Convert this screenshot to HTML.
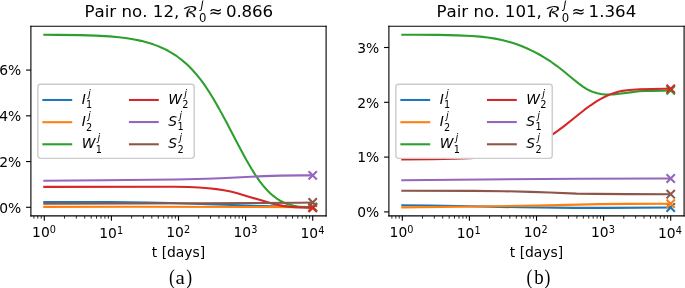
<!DOCTYPE html>
<html><head><meta charset="utf-8"><title>Figure</title>
<style>html,body{margin:0;padding:0;background:#fff;overflow:hidden}svg{display:block}svg *{stroke-linejoin:round;stroke-linecap:butt}</style>
</head><body>
<svg width="685" height="288" viewBox="0 0 493.2 207.36">
   <g id="figure_1">
  <g id="patch_1">
   <path d="M 0 207.36 L 493.2 207.36 L 493.2 0 L 0 0 z
" style="fill: #ffffff"/>
  </g>
  <g id="axes_1">
   <g id="patch_2">
    <path d="M 22.248 155.412 L 234.792 155.412 L 234.792 18.9 L 22.248 18.9 z
" style="fill: #ffffff"/>
   </g>
   <g id="matplotlib.axis_1">
    <g id="xtick_1">
     <g id="line2d_1">
            <g>
       <path d="M 0 0 L 0 3.5" transform="translate(31.896 155.412)" style="stroke: #000000; stroke-width: 0.8"/>
      </g>
     </g>
     <g id="text_1">
            <g transform="translate(23.0960 171.3104)">
       <text><tspan x="0.0000" y="-0.9766" style="font-size: 10px; font-family: 'DejaVu Sans', sans-serif; font-kerning: none">10</tspan><tspan x="12.8203" y="-3.8747" style="font-size: 7px; font-family: 'DejaVu Sans', sans-serif; font-kerning: none">0</tspan></text>
      </g>
     </g>
    </g>
    <g id="xtick_2">
     <g id="line2d_2">
      <g>
       <path d="M 0 0 L 0 3.5" transform="translate(80.208 155.412)" style="stroke: #000000; stroke-width: 0.8"/>
      </g>
     </g>
     <g id="text_2">
            <g transform="translate(71.4080 171.3104)">
       <text><tspan x="0.0000" y="-0.0641" style="font-size: 10px; font-family: 'DejaVu Sans', sans-serif; font-kerning: none">10</tspan><tspan x="12.8203" y="-2.9622" style="font-size: 7px; font-family: 'DejaVu Sans', sans-serif; font-kerning: none">1</tspan></text>
      </g>
     </g>
    </g>
    <g id="xtick_3">
     <g id="line2d_3">
      <g>
       <path d="M 0 0 L 0 3.5" transform="translate(128.52 155.412)" style="stroke: #000000; stroke-width: 0.8"/>
      </g>
     </g>
     <g id="text_3">
            <g transform="translate(119.7200 171.3104)">
       <text><tspan x="0.0000" y="-0.9766" style="font-size: 10px; font-family: 'DejaVu Sans', sans-serif; font-kerning: none">10</tspan><tspan x="12.8203" y="-3.8747" style="font-size: 7px; font-family: 'DejaVu Sans', sans-serif; font-kerning: none">2</tspan></text>
      </g>
     </g>
    </g>
    <g id="xtick_4">
     <g id="line2d_4">
      <g>
       <path d="M 0 0 L 0 3.5" transform="translate(176.832 155.412)" style="stroke: #000000; stroke-width: 0.8"/>
      </g>
     </g>
     <g id="text_4">
            <g transform="translate(168.0320 171.3104)">
       <text><tspan x="0.0000" y="-0.9766" style="font-size: 10px; font-family: 'DejaVu Sans', sans-serif; font-kerning: none">10</tspan><tspan x="12.8203" y="-3.8747" style="font-size: 7px; font-family: 'DejaVu Sans', sans-serif; font-kerning: none">3</tspan></text>
      </g>
     </g>
    </g>
    <g id="xtick_5">
     <g id="line2d_5">
      <g>
       <path d="M 0 0 L 0 3.5" transform="translate(225.144 155.412)" style="stroke: #000000; stroke-width: 0.8"/>
      </g>
     </g>
     <g id="text_5">
            <g transform="translate(216.3440 171.3104)">
       <text><tspan x="0.0000" y="-0.0641" style="font-size: 10px; font-family: 'DejaVu Sans', sans-serif; font-kerning: none">10</tspan><tspan x="12.8203" y="-2.9622" style="font-size: 7px; font-family: 'DejaVu Sans', sans-serif; font-kerning: none">4</tspan></text>
      </g>
     </g>
    </g>
    <g id="xtick_6">
     <g id="line2d_6">
            <g>
       <path d="M 0 0 L 0 2" transform="translate(24.412377 155.412)" style="stroke: #000000; stroke-width: 0.6"/>
      </g>
     </g>
    </g>
    <g id="xtick_7">
     <g id="line2d_7">
      <g>
       <path d="M 0 0 L 0 2" transform="translate(27.214083 155.412)" style="stroke: #000000; stroke-width: 0.6"/>
      </g>
     </g>
    </g>
    <g id="xtick_8">
     <g id="line2d_8">
      <g>
       <path d="M 0 0 L 0 2" transform="translate(29.685364 155.412)" style="stroke: #000000; stroke-width: 0.6"/>
      </g>
     </g>
    </g>
    <g id="xtick_9">
     <g id="line2d_9">
      <g>
       <path d="M 0 0 L 0 2" transform="translate(46.439361 155.412)" style="stroke: #000000; stroke-width: 0.6"/>
      </g>
     </g>
    </g>
    <g id="xtick_10">
     <g id="line2d_10">
      <g>
       <path d="M 0 0 L 0 2" transform="translate(54.946682 155.412)" style="stroke: #000000; stroke-width: 0.6"/>
      </g>
     </g>
    </g>
    <g id="xtick_11">
     <g id="line2d_11">
      <g>
       <path d="M 0 0 L 0 2" transform="translate(60.982722 155.412)" style="stroke: #000000; stroke-width: 0.6"/>
      </g>
     </g>
    </g>
    <g id="xtick_12">
     <g id="line2d_12">
      <g>
       <path d="M 0 0 L 0 2" transform="translate(65.664639 155.412)" style="stroke: #000000; stroke-width: 0.6"/>
      </g>
     </g>
    </g>
    <g id="xtick_13">
     <g id="line2d_13">
      <g>
       <path d="M 0 0 L 0 2" transform="translate(69.490043 155.412)" style="stroke: #000000; stroke-width: 0.6"/>
      </g>
     </g>
    </g>
    <g id="xtick_14">
     <g id="line2d_14">
      <g>
       <path d="M 0 0 L 0 2" transform="translate(72.724377 155.412)" style="stroke: #000000; stroke-width: 0.6"/>
      </g>
     </g>
    </g>
    <g id="xtick_15">
     <g id="line2d_15">
      <g>
       <path d="M 0 0 L 0 2" transform="translate(75.526083 155.412)" style="stroke: #000000; stroke-width: 0.6"/>
      </g>
     </g>
    </g>
    <g id="xtick_16">
     <g id="line2d_16">
      <g>
       <path d="M 0 0 L 0 2" transform="translate(77.997364 155.412)" style="stroke: #000000; stroke-width: 0.6"/>
      </g>
     </g>
    </g>
    <g id="xtick_17">
     <g id="line2d_17">
      <g>
       <path d="M 0 0 L 0 2" transform="translate(94.751361 155.412)" style="stroke: #000000; stroke-width: 0.6"/>
      </g>
     </g>
    </g>
    <g id="xtick_18">
     <g id="line2d_18">
      <g>
       <path d="M 0 0 L 0 2" transform="translate(103.258682 155.412)" style="stroke: #000000; stroke-width: 0.6"/>
      </g>
     </g>
    </g>
    <g id="xtick_19">
     <g id="line2d_19">
      <g>
       <path d="M 0 0 L 0 2" transform="translate(109.294722 155.412)" style="stroke: #000000; stroke-width: 0.6"/>
      </g>
     </g>
    </g>
    <g id="xtick_20">
     <g id="line2d_20">
      <g>
       <path d="M 0 0 L 0 2" transform="translate(113.976639 155.412)" style="stroke: #000000; stroke-width: 0.6"/>
      </g>
     </g>
    </g>
    <g id="xtick_21">
     <g id="line2d_21">
      <g>
       <path d="M 0 0 L 0 2" transform="translate(117.802043 155.412)" style="stroke: #000000; stroke-width: 0.6"/>
      </g>
     </g>
    </g>
    <g id="xtick_22">
     <g id="line2d_22">
      <g>
       <path d="M 0 0 L 0 2" transform="translate(121.036377 155.412)" style="stroke: #000000; stroke-width: 0.6"/>
      </g>
     </g>
    </g>
    <g id="xtick_23">
     <g id="line2d_23">
      <g>
       <path d="M 0 0 L 0 2" transform="translate(123.838083 155.412)" style="stroke: #000000; stroke-width: 0.6"/>
      </g>
     </g>
    </g>
    <g id="xtick_24">
     <g id="line2d_24">
      <g>
       <path d="M 0 0 L 0 2" transform="translate(126.309364 155.412)" style="stroke: #000000; stroke-width: 0.6"/>
      </g>
     </g>
    </g>
    <g id="xtick_25">
     <g id="line2d_25">
      <g>
       <path d="M 0 0 L 0 2" transform="translate(143.063361 155.412)" style="stroke: #000000; stroke-width: 0.6"/>
      </g>
     </g>
    </g>
    <g id="xtick_26">
     <g id="line2d_26">
      <g>
       <path d="M 0 0 L 0 2" transform="translate(151.570682 155.412)" style="stroke: #000000; stroke-width: 0.6"/>
      </g>
     </g>
    </g>
    <g id="xtick_27">
     <g id="line2d_27">
      <g>
       <path d="M 0 0 L 0 2" transform="translate(157.606722 155.412)" style="stroke: #000000; stroke-width: 0.6"/>
      </g>
     </g>
    </g>
    <g id="xtick_28">
     <g id="line2d_28">
      <g>
       <path d="M 0 0 L 0 2" transform="translate(162.288639 155.412)" style="stroke: #000000; stroke-width: 0.6"/>
      </g>
     </g>
    </g>
    <g id="xtick_29">
     <g id="line2d_29">
      <g>
       <path d="M 0 0 L 0 2" transform="translate(166.114043 155.412)" style="stroke: #000000; stroke-width: 0.6"/>
      </g>
     </g>
    </g>
    <g id="xtick_30">
     <g id="line2d_30">
      <g>
       <path d="M 0 0 L 0 2" transform="translate(169.348377 155.412)" style="stroke: #000000; stroke-width: 0.6"/>
      </g>
     </g>
    </g>
    <g id="xtick_31">
     <g id="line2d_31">
      <g>
       <path d="M 0 0 L 0 2" transform="translate(172.150083 155.412)" style="stroke: #000000; stroke-width: 0.6"/>
      </g>
     </g>
    </g>
    <g id="xtick_32">
     <g id="line2d_32">
      <g>
       <path d="M 0 0 L 0 2" transform="translate(174.621364 155.412)" style="stroke: #000000; stroke-width: 0.6"/>
      </g>
     </g>
    </g>
    <g id="xtick_33">
     <g id="line2d_33">
      <g>
       <path d="M 0 0 L 0 2" transform="translate(191.375361 155.412)" style="stroke: #000000; stroke-width: 0.6"/>
      </g>
     </g>
    </g>
    <g id="xtick_34">
     <g id="line2d_34">
      <g>
       <path d="M 0 0 L 0 2" transform="translate(199.882682 155.412)" style="stroke: #000000; stroke-width: 0.6"/>
      </g>
     </g>
    </g>
    <g id="xtick_35">
     <g id="line2d_35">
      <g>
       <path d="M 0 0 L 0 2" transform="translate(205.918722 155.412)" style="stroke: #000000; stroke-width: 0.6"/>
      </g>
     </g>
    </g>
    <g id="xtick_36">
     <g id="line2d_36">
      <g>
       <path d="M 0 0 L 0 2" transform="translate(210.600639 155.412)" style="stroke: #000000; stroke-width: 0.6"/>
      </g>
     </g>
    </g>
    <g id="xtick_37">
     <g id="line2d_37">
      <g>
       <path d="M 0 0 L 0 2" transform="translate(214.426043 155.412)" style="stroke: #000000; stroke-width: 0.6"/>
      </g>
     </g>
    </g>
    <g id="xtick_38">
     <g id="line2d_38">
      <g>
       <path d="M 0 0 L 0 2" transform="translate(217.660377 155.412)" style="stroke: #000000; stroke-width: 0.6"/>
      </g>
     </g>
    </g>
    <g id="xtick_39">
     <g id="line2d_39">
      <g>
       <path d="M 0 0 L 0 2" transform="translate(220.462083 155.412)" style="stroke: #000000; stroke-width: 0.6"/>
      </g>
     </g>
    </g>
    <g id="xtick_40">
     <g id="line2d_40">
      <g>
       <path d="M 0 0 L 0 2" transform="translate(222.933364 155.412)" style="stroke: #000000; stroke-width: 0.6"/>
      </g>
     </g>
    </g>
    <g id="text_6">
     <text style="font-size: 10px; font-family: 'DejaVu Sans', sans-serif; text-anchor: middle" x="128.52" y="185.2686" transform="rotate(-0 128.52 185.2686)">t [days]</text>
    </g>
   </g>
   <g id="matplotlib.axis_2">
    <g id="ytick_1">
     <g id="line2d_41">
            <g>
       <path d="M 0 0 L -3.5 0" transform="translate(22.248 149.256)" style="stroke: #000000; stroke-width: 0.8"/>
      </g>
     </g>
     <g id="text_7">
      <text style="font-size: 10px; font-family: 'DejaVu Sans', sans-serif; text-anchor: end" x="15.248" y="153.055219" transform="rotate(-0 15.248 153.055219)">0%</text>
     </g>
    </g>
    <g id="ytick_2">
     <g id="line2d_42">
      <g>
       <path d="M 0 0 L -3.5 0" transform="translate(22.248 116.3232)" style="stroke: #000000; stroke-width: 0.8"/>
      </g>
     </g>
     <g id="text_8">
      <text style="font-size: 10px; font-family: 'DejaVu Sans', sans-serif; text-anchor: end" x="15.248" y="120.122419" transform="rotate(-0 15.248 120.122419)">2%</text>
     </g>
    </g>
    <g id="ytick_3">
     <g id="line2d_43">
      <g>
       <path d="M 0 0 L -3.5 0" transform="translate(22.248 83.3904)" style="stroke: #000000; stroke-width: 0.8"/>
      </g>
     </g>
     <g id="text_9">
      <text style="font-size: 10px; font-family: 'DejaVu Sans', sans-serif; text-anchor: end" x="15.248" y="87.189619" transform="rotate(-0 15.248 87.189619)">4%</text>
     </g>
    </g>
    <g id="ytick_4">
     <g id="line2d_44">
      <g>
       <path d="M 0 0 L -3.5 0" transform="translate(22.248 50.4576)" style="stroke: #000000; stroke-width: 0.8"/>
      </g>
     </g>
     <g id="text_10">
      <text style="font-size: 10px; font-family: 'DejaVu Sans', sans-serif; text-anchor: end" x="15.248" y="54.256819" transform="rotate(-0 15.248 54.256819)">6%</text>
     </g>
    </g>
   </g>
   <g id="line2d_45">
    <path d="M 31.896 145.44 L 79.844752 145.551218 L 105.514286 145.836308 L 122.465865 146.182455 L 150.072722 147.03128 L 208.192421 148.959606 L 225.144 149.112 L 225.144 149.112 " style="fill: none; stroke: #1f77b4; stroke-width: 1.5; stroke-linecap: square"/>
   </g>
   <g id="line2d_46">
        <g>
     <path d="M -3 3 L 3 -3 M -3 -3 L 3 3" transform="translate(225.144 149.112)" style="stroke: #1f77b4; stroke-width: 1.5"/>
    </g>
   </g>
   <g id="line2d_47">
    <path d="M 31.896 148.968 L 94.374677 148.90873 L 225.144 149.112 L 225.144 149.112 " style="fill: none; stroke: #ff7f0e; stroke-width: 1.5; stroke-linecap: square"/>
   </g>
   <g id="line2d_48">
        <g>
     <path d="M -3 3 L 3 -3 M -3 -3 L 3 3" transform="translate(225.144 149.112)" style="stroke: #ff7f0e; stroke-width: 1.5"/>
    </g>
   </g>
   <g id="line2d_49">
    <path d="M 31.896 25.025021 L 41.098286 25.125063 L 57.565534 25.274093 L 68.705143 25.650455 L 78.87609 26.2027 L 85.656722 26.78346 L 91.468692 27.498711 L 96.796331 28.383427 L 101.639639 29.417256 L 105.998617 30.563817 L 110.357594 31.941078 L 114.232241 33.389968 L 117.622556 34.868738 L 121.012872 36.578236 L 124.403188 38.55073 L 127.309173 40.475221 L 130.215158 42.636958 L 133.121143 45.056238 L 136.027128 47.753338 L 138.933113 50.748533 L 141.839098 54.062103 L 144.745083 57.714322 L 147.651068 61.725469 L 150.557053 66.105922 L 153.947368 71.631479 L 157.822015 78.391102 L 162.665323 87.324471 L 171.867609 104.929966 L 177.195248 114.820672 L 181.069895 121.524027 L 183.97588 126.151652 L 186.881865 130.347984 L 189.303519 133.472969 L 191.725173 136.264329 L 194.146827 138.734035 L 196.568481 140.89406 L 198.990135 142.756375 L 201.411789 144.332953 L 203.833444 145.635765 L 206.255098 146.676809 L 208.676752 147.475109 L 211.582737 148.163003 L 214.488722 148.618304 L 218.363368 148.977072 L 225.144 149.359106 L 225.144 149.359106 " style="fill: none; stroke: #2ca02c; stroke-width: 1.5; stroke-linecap: square"/>
   </g>
   <g id="line2d_50">
        <g>
     <path d="M -3 3 L 3 -3 M -3 -3 L 3 3" transform="translate(225.144 149.359106)" style="stroke: #2ca02c; stroke-width: 1.5"/>
    </g>
   </g>
   <g id="line2d_51">
    <path d="M 31.896 134.565508 L 125.37185 134.473891 L 135.542797 134.6488 L 143.29209 134.990247 L 150.072722 135.505079 L 155.884692 136.158766 L 161.212331 136.980652 L 166.055639 137.950993 L 170.898947 139.159213 L 176.710917 140.851201 L 194.631158 146.241268 L 199.474466 147.396741 L 203.833444 148.224888 L 207.70809 148.756236 L 212.067068 149.136863 L 217.879038 149.411041 L 225.144 149.633894 L 225.144 149.633894 " style="fill: none; stroke: #d62728; stroke-width: 1.5; stroke-linecap: square"/>
   </g>
   <g id="line2d_52">
        <g>
     <path d="M -3 3 L 3 -3 M -3 -3 L 3 3" transform="translate(225.144 149.633894)" style="stroke: #d62728; stroke-width: 1.5"/>
    </g>
   </g>
   <g id="line2d_53">
    <path d="M 31.896 130.104 L 74.517113 129.794744 L 126.824842 129.194656 L 148.619729 128.744124 L 158.790677 128.335158 L 189.78785 126.836007 L 202.380451 126.460234 L 216.426045 126.288 L 225.144 126.288 L 225.144 126.288 " style="fill: none; stroke: #9467bd; stroke-width: 1.5; stroke-linecap: square"/>
   </g>
   <g id="line2d_54">
        <g>
     <path d="M -3 3 L 3 -3 M -3 -3 L 3 3" transform="translate(225.144 126.288)" style="stroke: #9467bd; stroke-width: 1.5"/>
    </g>
   </g>
   <g id="line2d_55">
    <path d="M 31.896 146.664 L 102.608301 146.55305 L 186.881865 146.185317 L 215.941714 145.993497 L 225.144 145.8 L 225.144 145.8 " style="fill: none; stroke: #8c564b; stroke-width: 1.5; stroke-linecap: square"/>
   </g>
   <g id="line2d_56">
        <g>
     <path d="M -3 3 L 3 -3 M -3 -3 L 3 3" transform="translate(225.144 145.8)" style="stroke: #8c564b; stroke-width: 1.5"/>
    </g>
   </g>
   <g id="patch_3">
    <path d="M 22.248 155.412 L 22.248 18.9 " style="fill: none; stroke: #000000; stroke-width: 0.8; stroke-linejoin: miter; stroke-linecap: square"/>
   </g>
   <g id="patch_4">
    <path d="M 234.792 155.412 L 234.792 18.9 " style="fill: none; stroke: #000000; stroke-width: 0.8; stroke-linejoin: miter; stroke-linecap: square"/>
   </g>
   <g id="patch_5">
    <path d="M 22.248 155.412 L 234.792 155.412 " style="fill: none; stroke: #000000; stroke-width: 0.8; stroke-linejoin: miter; stroke-linecap: square"/>
   </g>
   <g id="patch_6">
    <path d="M 22.248 18.9 L 234.792 18.9 " style="fill: none; stroke: #000000; stroke-width: 0.8; stroke-linejoin: miter; stroke-linecap: square"/>
   </g>
   <g id="text_11">
        <g transform="translate(60.8000 12.6500)">
     <text><tspan x="0.0000" y="-0.4094" style="font-size: 12px; font-family: 'DejaVu Sans', sans-serif; font-kerning: none">Pair no. 12, </tspan><tspan x="70.6345" y="-0.6254" textLength="10.8623" lengthAdjust="spacingAndGlyphs" style="font-size: 10.296px; stroke: #000000; stroke-width: 0.108px; font-family: 'DejaVu Math TeX Gyre', 'DejaVu Sans', serif">ℛ</tspan><tspan x="89.5397" y="-0.4094" style="font-size: 12px; font-family: 'DejaVu Sans', sans-serif; font-kerning: none">≈</tspan><tspan x="101.9322" y="-0.4094" dx="0 0 -0.375 -0.0001 0" style="font-size: 12px; font-family: 'DejaVu Sans', sans-serif; font-kerning: none">0.866</tspan><tspan x="83.6093" y="-6.6125" style="font-style: oblique; font-size: 8.4px; font-family: 'DejaVu Sans', sans-serif; font-kerning: none">j</tspan><tspan x="82.5093" y="2.8719" style="font-size: 8.4px; font-family: 'DejaVu Sans', sans-serif; font-kerning: none">0</tspan></text>
    </g>
   </g>
   <g id="legend_1">
    <g id="patch_7">
     <path d="M 29.248 114.006 L 137.848 114.006 Q 139.848 114.006 139.848 112.006 L 139.848 62.656 Q 139.848 60.656 137.848 60.656 L 29.248 60.656 Q 27.248 60.656 27.248 62.656 L 27.248 112.006 Q 27.248 114.006 29.248 114.006 z" style="fill: #ffffff; stroke: #cccccc; stroke-linejoin: miter"/>
    </g>
    <g id="line2d_57">
     <path d="M 31.248 71.986 L 41.248 71.986 L 51.248 71.986" style="fill: none; stroke: #1f77b4; stroke-width: 1.5; stroke-linecap: square"/>
    </g>
    <g id="text_12">
          <g transform="translate(58.8480 75.4860)">
      <text><tspan x="0.0000" y="-0.60625" style="font-style: oblique; font-size: 10px; font-family: 'DejaVu Sans', sans-serif; font-kerning: none">I</tspan><tspan x="4.4518" y="-5.6844" style="font-style: oblique; font-size: 7px; font-family: 'DejaVu Sans', sans-serif; font-kerning: none">j</tspan><tspan x="3.1492" y="2.4281" style="font-size: 7px; font-family: 'DejaVu Sans', sans-serif; font-kerning: none">1</tspan></text>
     </g>
    </g>
    <g id="line2d_58">
     <path d="M 31.248 87.986 L 41.248 87.986 L 51.248 87.986" style="fill: none; stroke: #ff7f0e; stroke-width: 1.5; stroke-linecap: square"/>
    </g>
    <g id="text_13">
          <g transform="translate(58.8480 91.4860)">
      <text><tspan x="0.0000" y="-0.51875" style="font-style: oblique; font-size: 10px; font-family: 'DejaVu Sans', sans-serif; font-kerning: none">I</tspan><tspan x="4.4518" y="-5.6844" style="font-style: oblique; font-size: 7px; font-family: 'DejaVu Sans', sans-serif; font-kerning: none">j</tspan><tspan x="3.1492" y="2.5156" style="font-size: 7px; font-family: 'DejaVu Sans', sans-serif; font-kerning: none">2</tspan></text>
     </g>
    </g>
    <g id="line2d_59">
     <path d="M 31.248 103.886 L 41.248 103.886 L 51.248 103.886" style="fill: none; stroke: #2ca02c; stroke-width: 1.5; stroke-linecap: square"/>
    </g>
    <g id="text_14">
          <g transform="translate(58.8480 107.3860)">
      <text><tspan x="0.0000" y="-0.60625" style="font-style: oblique; font-size: 10px; font-family: 'DejaVu Sans', sans-serif; font-kerning: none">W</tspan><tspan x="11.3902" y="-5.6844" style="font-style: oblique; font-size: 7px; font-family: 'DejaVu Sans', sans-serif; font-kerning: none">j</tspan><tspan x="10.0877" y="2.4281" style="font-size: 7px; font-family: 'DejaVu Sans', sans-serif; font-kerning: none">1</tspan></text>
     </g>
    </g>
    <g id="line2d_60">
     <path d="M 93.588 71.986 L 103.588 71.986 L 113.588 71.986" style="fill: none; stroke: #d62728; stroke-width: 1.5; stroke-linecap: square"/>
    </g>
    <g id="text_15">
          <g transform="translate(121.1880 75.4860)">
      <text><tspan x="0.0000" y="-0.51875" style="font-style: oblique; font-size: 10px; font-family: 'DejaVu Sans', sans-serif; font-kerning: none">W</tspan><tspan x="11.3902" y="-5.6844" style="font-style: oblique; font-size: 7px; font-family: 'DejaVu Sans', sans-serif; font-kerning: none">j</tspan><tspan x="10.0877" y="2.5156" style="font-size: 7px; font-family: 'DejaVu Sans', sans-serif; font-kerning: none">2</tspan></text>
     </g>
    </g>
    <g id="line2d_61">
     <path d="M 93.588 87.886 L 103.588 87.886 L 113.588 87.886" style="fill: none; stroke: #9467bd; stroke-width: 1.5; stroke-linecap: square"/>
    </g>
    <g id="text_16">
          <g transform="translate(121.1880 91.3860)">
      <text><tspan x="0.0000" y="-0.60625" style="font-style: oblique; font-size: 10px; font-family: 'DejaVu Sans', sans-serif; font-kerning: none">S</tspan><tspan x="7.8677" y="-5.6844" style="font-style: oblique; font-size: 7px; font-family: 'DejaVu Sans', sans-serif; font-kerning: none">j</tspan><tspan x="6.5477" y="2.4281" style="font-size: 7px; font-family: 'DejaVu Sans', sans-serif; font-kerning: none">1</tspan></text>
     </g>
    </g>
    <g id="line2d_62">
     <path d="M 93.588 103.886 L 103.588 103.886 L 113.588 103.886" style="fill: none; stroke: #8c564b; stroke-width: 1.5; stroke-linecap: square"/>
    </g>
    <g id="text_17">
          <g transform="translate(121.1880 107.3860)">
      <text><tspan x="0.0000" y="-0.51875" style="font-style: oblique; font-size: 10px; font-family: 'DejaVu Sans', sans-serif; font-kerning: none">S</tspan><tspan x="7.8677" y="-5.6844" style="font-style: oblique; font-size: 7px; font-family: 'DejaVu Sans', sans-serif; font-kerning: none">j</tspan><tspan x="6.5477" y="2.5156" style="font-size: 7px; font-family: 'DejaVu Sans', sans-serif; font-kerning: none">2</tspan></text>
     </g>
    </g>
   </g>
  </g>
  <g id="axes_2">
   <g id="patch_8">
    <path d="M 280.008 155.412 L 492.552 155.412 L 492.552 18.9 L 280.008 18.9 z
" style="fill: #ffffff"/>
   </g>
   <g id="matplotlib.axis_3">
    <g id="xtick_41">
     <g id="line2d_63">
      <g>
       <path d="M 0 0 L 0 3.5" transform="translate(289.656 155.412)" style="stroke: #000000; stroke-width: 0.8"/>
      </g>
     </g>
     <g id="text_18">
            <g transform="translate(280.4960 171.3104)">
       <text><tspan x="0.0000" y="-0.9766" style="font-size: 10px; font-family: 'DejaVu Sans', sans-serif; font-kerning: none">10</tspan><tspan x="12.8203" y="-3.8747" style="font-size: 7px; font-family: 'DejaVu Sans', sans-serif; font-kerning: none">0</tspan></text>
      </g>
     </g>
    </g>
    <g id="xtick_42">
     <g id="line2d_64">
      <g>
       <path d="M 0 0 L 0 3.5" transform="translate(337.968 155.412)" style="stroke: #000000; stroke-width: 0.8"/>
      </g>
     </g>
     <g id="text_19">
            <g transform="translate(328.8080 171.3104)">
       <text><tspan x="0.0000" y="-0.0641" style="font-size: 10px; font-family: 'DejaVu Sans', sans-serif; font-kerning: none">10</tspan><tspan x="12.8203" y="-2.9622" style="font-size: 7px; font-family: 'DejaVu Sans', sans-serif; font-kerning: none">1</tspan></text>
      </g>
     </g>
    </g>
    <g id="xtick_43">
     <g id="line2d_65">
      <g>
       <path d="M 0 0 L 0 3.5" transform="translate(386.28 155.412)" style="stroke: #000000; stroke-width: 0.8"/>
      </g>
     </g>
     <g id="text_20">
            <g transform="translate(377.1200 171.3104)">
       <text><tspan x="0.0000" y="-0.9766" style="font-size: 10px; font-family: 'DejaVu Sans', sans-serif; font-kerning: none">10</tspan><tspan x="12.8203" y="-3.8747" style="font-size: 7px; font-family: 'DejaVu Sans', sans-serif; font-kerning: none">2</tspan></text>
      </g>
     </g>
    </g>
    <g id="xtick_44">
     <g id="line2d_66">
      <g>
       <path d="M 0 0 L 0 3.5" transform="translate(434.592 155.412)" style="stroke: #000000; stroke-width: 0.8"/>
      </g>
     </g>
     <g id="text_21">
            <g transform="translate(425.4320 171.3104)">
       <text><tspan x="0.0000" y="-0.9766" style="font-size: 10px; font-family: 'DejaVu Sans', sans-serif; font-kerning: none">10</tspan><tspan x="12.8203" y="-3.8747" style="font-size: 7px; font-family: 'DejaVu Sans', sans-serif; font-kerning: none">3</tspan></text>
      </g>
     </g>
    </g>
    <g id="xtick_45">
     <g id="line2d_67">
      <g>
       <path d="M 0 0 L 0 3.5" transform="translate(482.904 155.412)" style="stroke: #000000; stroke-width: 0.8"/>
      </g>
     </g>
     <g id="text_22">
            <g transform="translate(473.7440 171.3104)">
       <text><tspan x="0.0000" y="-0.0641" style="font-size: 10px; font-family: 'DejaVu Sans', sans-serif; font-kerning: none">10</tspan><tspan x="12.8203" y="-2.9622" style="font-size: 7px; font-family: 'DejaVu Sans', sans-serif; font-kerning: none">4</tspan></text>
      </g>
     </g>
    </g>
    <g id="xtick_46">
     <g id="line2d_68">
      <g>
       <path d="M 0 0 L 0 2" transform="translate(282.172377 155.412)" style="stroke: #000000; stroke-width: 0.6"/>
      </g>
     </g>
    </g>
    <g id="xtick_47">
     <g id="line2d_69">
      <g>
       <path d="M 0 0 L 0 2" transform="translate(284.974083 155.412)" style="stroke: #000000; stroke-width: 0.6"/>
      </g>
     </g>
    </g>
    <g id="xtick_48">
     <g id="line2d_70">
      <g>
       <path d="M 0 0 L 0 2" transform="translate(287.445364 155.412)" style="stroke: #000000; stroke-width: 0.6"/>
      </g>
     </g>
    </g>
    <g id="xtick_49">
     <g id="line2d_71">
      <g>
       <path d="M 0 0 L 0 2" transform="translate(304.199361 155.412)" style="stroke: #000000; stroke-width: 0.6"/>
      </g>
     </g>
    </g>
    <g id="xtick_50">
     <g id="line2d_72">
      <g>
       <path d="M 0 0 L 0 2" transform="translate(312.706682 155.412)" style="stroke: #000000; stroke-width: 0.6"/>
      </g>
     </g>
    </g>
    <g id="xtick_51">
     <g id="line2d_73">
      <g>
       <path d="M 0 0 L 0 2" transform="translate(318.742722 155.412)" style="stroke: #000000; stroke-width: 0.6"/>
      </g>
     </g>
    </g>
    <g id="xtick_52">
     <g id="line2d_74">
      <g>
       <path d="M 0 0 L 0 2" transform="translate(323.424639 155.412)" style="stroke: #000000; stroke-width: 0.6"/>
      </g>
     </g>
    </g>
    <g id="xtick_53">
     <g id="line2d_75">
      <g>
       <path d="M 0 0 L 0 2" transform="translate(327.250043 155.412)" style="stroke: #000000; stroke-width: 0.6"/>
      </g>
     </g>
    </g>
    <g id="xtick_54">
     <g id="line2d_76">
      <g>
       <path d="M 0 0 L 0 2" transform="translate(330.484377 155.412)" style="stroke: #000000; stroke-width: 0.6"/>
      </g>
     </g>
    </g>
    <g id="xtick_55">
     <g id="line2d_77">
      <g>
       <path d="M 0 0 L 0 2" transform="translate(333.286083 155.412)" style="stroke: #000000; stroke-width: 0.6"/>
      </g>
     </g>
    </g>
    <g id="xtick_56">
     <g id="line2d_78">
      <g>
       <path d="M 0 0 L 0 2" transform="translate(335.757364 155.412)" style="stroke: #000000; stroke-width: 0.6"/>
      </g>
     </g>
    </g>
    <g id="xtick_57">
     <g id="line2d_79">
      <g>
       <path d="M 0 0 L 0 2" transform="translate(352.511361 155.412)" style="stroke: #000000; stroke-width: 0.6"/>
      </g>
     </g>
    </g>
    <g id="xtick_58">
     <g id="line2d_80">
      <g>
       <path d="M 0 0 L 0 2" transform="translate(361.018682 155.412)" style="stroke: #000000; stroke-width: 0.6"/>
      </g>
     </g>
    </g>
    <g id="xtick_59">
     <g id="line2d_81">
      <g>
       <path d="M 0 0 L 0 2" transform="translate(367.054722 155.412)" style="stroke: #000000; stroke-width: 0.6"/>
      </g>
     </g>
    </g>
    <g id="xtick_60">
     <g id="line2d_82">
      <g>
       <path d="M 0 0 L 0 2" transform="translate(371.736639 155.412)" style="stroke: #000000; stroke-width: 0.6"/>
      </g>
     </g>
    </g>
    <g id="xtick_61">
     <g id="line2d_83">
      <g>
       <path d="M 0 0 L 0 2" transform="translate(375.562043 155.412)" style="stroke: #000000; stroke-width: 0.6"/>
      </g>
     </g>
    </g>
    <g id="xtick_62">
     <g id="line2d_84">
      <g>
       <path d="M 0 0 L 0 2" transform="translate(378.796377 155.412)" style="stroke: #000000; stroke-width: 0.6"/>
      </g>
     </g>
    </g>
    <g id="xtick_63">
     <g id="line2d_85">
      <g>
       <path d="M 0 0 L 0 2" transform="translate(381.598083 155.412)" style="stroke: #000000; stroke-width: 0.6"/>
      </g>
     </g>
    </g>
    <g id="xtick_64">
     <g id="line2d_86">
      <g>
       <path d="M 0 0 L 0 2" transform="translate(384.069364 155.412)" style="stroke: #000000; stroke-width: 0.6"/>
      </g>
     </g>
    </g>
    <g id="xtick_65">
     <g id="line2d_87">
      <g>
       <path d="M 0 0 L 0 2" transform="translate(400.823361 155.412)" style="stroke: #000000; stroke-width: 0.6"/>
      </g>
     </g>
    </g>
    <g id="xtick_66">
     <g id="line2d_88">
      <g>
       <path d="M 0 0 L 0 2" transform="translate(409.330682 155.412)" style="stroke: #000000; stroke-width: 0.6"/>
      </g>
     </g>
    </g>
    <g id="xtick_67">
     <g id="line2d_89">
      <g>
       <path d="M 0 0 L 0 2" transform="translate(415.366722 155.412)" style="stroke: #000000; stroke-width: 0.6"/>
      </g>
     </g>
    </g>
    <g id="xtick_68">
     <g id="line2d_90">
      <g>
       <path d="M 0 0 L 0 2" transform="translate(420.048639 155.412)" style="stroke: #000000; stroke-width: 0.6"/>
      </g>
     </g>
    </g>
    <g id="xtick_69">
     <g id="line2d_91">
      <g>
       <path d="M 0 0 L 0 2" transform="translate(423.874043 155.412)" style="stroke: #000000; stroke-width: 0.6"/>
      </g>
     </g>
    </g>
    <g id="xtick_70">
     <g id="line2d_92">
      <g>
       <path d="M 0 0 L 0 2" transform="translate(427.108377 155.412)" style="stroke: #000000; stroke-width: 0.6"/>
      </g>
     </g>
    </g>
    <g id="xtick_71">
     <g id="line2d_93">
      <g>
       <path d="M 0 0 L 0 2" transform="translate(429.910083 155.412)" style="stroke: #000000; stroke-width: 0.6"/>
      </g>
     </g>
    </g>
    <g id="xtick_72">
     <g id="line2d_94">
      <g>
       <path d="M 0 0 L 0 2" transform="translate(432.381364 155.412)" style="stroke: #000000; stroke-width: 0.6"/>
      </g>
     </g>
    </g>
    <g id="xtick_73">
     <g id="line2d_95">
      <g>
       <path d="M 0 0 L 0 2" transform="translate(449.135361 155.412)" style="stroke: #000000; stroke-width: 0.6"/>
      </g>
     </g>
    </g>
    <g id="xtick_74">
     <g id="line2d_96">
      <g>
       <path d="M 0 0 L 0 2" transform="translate(457.642682 155.412)" style="stroke: #000000; stroke-width: 0.6"/>
      </g>
     </g>
    </g>
    <g id="xtick_75">
     <g id="line2d_97">
      <g>
       <path d="M 0 0 L 0 2" transform="translate(463.678722 155.412)" style="stroke: #000000; stroke-width: 0.6"/>
      </g>
     </g>
    </g>
    <g id="xtick_76">
     <g id="line2d_98">
      <g>
       <path d="M 0 0 L 0 2" transform="translate(468.360639 155.412)" style="stroke: #000000; stroke-width: 0.6"/>
      </g>
     </g>
    </g>
    <g id="xtick_77">
     <g id="line2d_99">
      <g>
       <path d="M 0 0 L 0 2" transform="translate(472.186043 155.412)" style="stroke: #000000; stroke-width: 0.6"/>
      </g>
     </g>
    </g>
    <g id="xtick_78">
     <g id="line2d_100">
      <g>
       <path d="M 0 0 L 0 2" transform="translate(475.420377 155.412)" style="stroke: #000000; stroke-width: 0.6"/>
      </g>
     </g>
    </g>
    <g id="xtick_79">
     <g id="line2d_101">
      <g>
       <path d="M 0 0 L 0 2" transform="translate(478.222083 155.412)" style="stroke: #000000; stroke-width: 0.6"/>
      </g>
     </g>
    </g>
    <g id="xtick_80">
     <g id="line2d_102">
      <g>
       <path d="M 0 0 L 0 2" transform="translate(480.693364 155.412)" style="stroke: #000000; stroke-width: 0.6"/>
      </g>
     </g>
    </g>
    <g id="text_23">
     <text style="font-size: 10px; font-family: 'DejaVu Sans', sans-serif; text-anchor: middle" x="386.28" y="185.2686" transform="rotate(-0 386.28 185.2686)">t [days]</text>
    </g>
   </g>
   <g id="matplotlib.axis_4">
    <g id="ytick_5">
     <g id="line2d_103">
      <g>
       <path d="M 0 0 L -3.5 0" transform="translate(280.008 152.568)" style="stroke: #000000; stroke-width: 0.8"/>
      </g>
     </g>
     <g id="text_24">
      <text style="font-size: 10px; font-family: 'DejaVu Sans', sans-serif; text-anchor: end" x="273.008" y="156.367219" transform="rotate(-0 273.008 156.367219)">0%</text>
     </g>
    </g>
    <g id="ytick_6">
     <g id="line2d_104">
      <g>
       <path d="M 0 0 L -3.5 0" transform="translate(280.008 113.112)" style="stroke: #000000; stroke-width: 0.8"/>
      </g>
     </g>
     <g id="text_25">
      <text style="font-size: 10px; font-family: 'DejaVu Sans', sans-serif; text-anchor: end" x="273.008" y="116.911219" transform="rotate(-0 273.008 116.911219)">1%</text>
     </g>
    </g>
    <g id="ytick_7">
     <g id="line2d_105">
      <g>
       <path d="M 0 0 L -3.5 0" transform="translate(280.008 73.656)" style="stroke: #000000; stroke-width: 0.8"/>
      </g>
     </g>
     <g id="text_26">
      <text style="font-size: 10px; font-family: 'DejaVu Sans', sans-serif; text-anchor: end" x="273.008" y="77.455219" transform="rotate(-0 273.008 77.455219)">2%</text>
     </g>
    </g>
    <g id="ytick_8">
     <g id="line2d_106">
      <g>
       <path d="M 0 0 L -3.5 0" transform="translate(280.008 34.2)" style="stroke: #000000; stroke-width: 0.8"/>
      </g>
     </g>
     <g id="text_27">
      <text style="font-size: 10px; font-family: 'DejaVu Sans', sans-serif; text-anchor: end" x="273.008" y="37.999219" transform="rotate(-0 273.008 37.999219)">3%</text>
     </g>
    </g>
   </g>
   <g id="line2d_107">
    <path d="M 289.656 147.816 L 309.029233 147.943521 L 329.371128 148.272085 L 374.898226 149.274905 L 413.644692 149.680863 L 437.376902 149.648588 L 482.904 149.400862 L 482.904 149.400862 " style="fill: none; stroke: #1f77b4; stroke-width: 1.5; stroke-linecap: square"/>
   </g>
   <g id="line2d_108">
    <g>
     <path d="M -3 3 L 3 -3 M -3 -3 L 3 3" transform="translate(482.904 149.400862)" style="stroke: #1f77b4; stroke-width: 1.5"/>
    </g>
   </g>
   <g id="line2d_109">
    <path d="M 289.656 149.328 L 332.277113 148.834724 L 393.787128 147.842802 L 431.564932 146.98743 L 450.938165 146.779749 L 482.904 146.664007 L 482.904 146.664007 " style="fill: none; stroke: #ff7f0e; stroke-width: 1.5; stroke-linecap: square"/>
   </g>
   <g id="line2d_110">
    <g>
     <path d="M -3 3 L 3 -3 M -3 -3 L 3 3" transform="translate(482.904 146.664007)" style="stroke: #ff7f0e; stroke-width: 1.5"/>
    </g>
   </g>
   <g id="line2d_111">
    <path d="M 289.656 25.026704 L 298.858286 25.069096 L 315.809865 25.115911 L 329.371128 25.456797 L 339.542075 25.884342 L 345.838376 26.360972 L 351.166015 26.969712 L 356.493654 27.810031 L 361.336962 28.801784 L 366.180271 30.035197 L 370.539248 31.370914 L 374.898226 32.932786 L 379.257203 34.730523 L 383.61618 36.773826 L 387.975158 39.072331 L 392.334135 41.633007 L 396.693113 44.459248 L 401.05209 47.554201 L 405.411068 50.921011 L 411.707368 56.143895 L 416.550677 60.051285 L 419.940992 62.506047 L 422.846977 64.31407 L 425.268632 65.550083 L 427.690286 66.508674 L 430.11194 67.210995 L 432.533594 67.686268 L 435.439579 67.998043 L 438.345564 68.075455 L 441.73588 67.936931 L 446.094857 67.519338 L 453.84415 66.499224 L 460.140451 65.75667 L 464.499429 65.46844 L 469.342737 65.408767 L 478.060692 65.358911 L 481.935338 65.080002 L 482.904 64.96461 L 482.904 64.96461 " style="fill: none; stroke: #2ca02c; stroke-width: 1.5; stroke-linecap: square"/>
   </g>
   <g id="line2d_112">
    <g>
     <path d="M -3 3 L 3 -3 M -3 -3 L 3 3" transform="translate(482.904 64.96461)" style="stroke: #2ca02c; stroke-width: 1.5"/>
    </g>
   </g>
   <g id="line2d_113">
    <path d="M 289.656 114.770996 L 311.450887 114.621897 L 326.949474 114.322012 L 338.089083 113.893616 L 347.291368 113.324501 L 354.556331 112.672622 L 359.88397 111.993965 L 364.727278 111.164464 L 369.086256 110.200829 L 373.445233 108.998833 L 377.31988 107.710099 L 381.194526 106.195978 L 385.069173 104.439144 L 388.94382 102.424436 L 392.818466 100.160071 L 397.177444 97.342246 L 401.536421 94.269202 L 406.379729 90.594746 L 413.644692 84.75444 L 420.909654 78.98836 L 425.268632 75.793524 L 429.143278 73.226869 L 432.533594 71.221907 L 435.92391 69.461265 L 439.314226 67.963573 L 442.220211 66.903245 L 445.126195 66.061309 L 448.03218 65.432675 L 451.422496 64.924323 L 455.297143 64.570188 L 460.624782 64.327528 L 478.545023 63.887646 L 482.904 63.931188 L 482.904 63.931188 " style="fill: none; stroke: #d62728; stroke-width: 1.5; stroke-linecap: square"/>
   </g>
   <g id="line2d_114">
    <g>
     <path d="M -3 3 L 3 -3 M -3 -3 L 3 3" transform="translate(482.904 63.931188)" style="stroke: #d62728; stroke-width: 1.5"/>
    </g>
   </g>
   <g id="line2d_115">
    <path d="M 289.656 129.816 L 416.550677 128.640081 L 473.701714 128.523352 L 482.904 128.520002 L 482.904 128.520002 " style="fill: none; stroke: #9467bd; stroke-width: 1.5; stroke-linecap: square"/>
   </g>
   <g id="line2d_116">
    <g>
     <path d="M -3 3 L 3 -3 M -3 -3 L 3 3" transform="translate(482.904 128.520002)" style="stroke: #9467bd; stroke-width: 1.5"/>
    </g>
   </g>
   <g id="line2d_117">
    <path d="M 289.656 137.304 L 340.995068 137.442644 L 362.789955 137.662055 L 382.163188 138.154493 L 395.724451 138.641709 L 415.097684 139.4149 L 428.658947 139.615583 L 451.422496 139.768285 L 482.904 139.823997 L 482.904 139.823997 " style="fill: none; stroke: #8c564b; stroke-width: 1.5; stroke-linecap: square"/>
   </g>
   <g id="line2d_118">
    <g>
     <path d="M -3 3 L 3 -3 M -3 -3 L 3 3" transform="translate(482.904 139.823997)" style="stroke: #8c564b; stroke-width: 1.5"/>
    </g>
   </g>
   <g id="patch_9">
    <path d="M 280.008 155.412 L 280.008 18.9 " style="fill: none; stroke: #000000; stroke-width: 0.8; stroke-linejoin: miter; stroke-linecap: square"/>
   </g>
   <g id="patch_10">
    <path d="M 492.552 155.412 L 492.552 18.9 " style="fill: none; stroke: #000000; stroke-width: 0.8; stroke-linejoin: miter; stroke-linecap: square"/>
   </g>
   <g id="patch_11">
    <path d="M 280.008 155.412 L 492.552 155.412 " style="fill: none; stroke: #000000; stroke-width: 0.8; stroke-linejoin: miter; stroke-linecap: square"/>
   </g>
   <g id="patch_12">
    <path d="M 280.008 18.9 L 492.552 18.9 " style="fill: none; stroke: #000000; stroke-width: 0.8; stroke-linejoin: miter; stroke-linecap: square"/>
   </g>
   <g id="text_28">
        <g transform="translate(314.2400 12.6500)">
     <text><tspan x="0.0000" y="-0.4094" style="font-size: 12px; font-family: 'DejaVu Sans', sans-serif; font-kerning: none">Pair no. 101, </tspan><tspan x="78.2692" y="-0.6254" textLength="10.8623" lengthAdjust="spacingAndGlyphs" style="font-size: 10.296px; stroke: #000000; stroke-width: 0.108px; font-family: 'DejaVu Math TeX Gyre', 'DejaVu Sans', serif">ℛ</tspan><tspan x="97.1744" y="-0.4094" style="font-size: 12px; font-family: 'DejaVu Sans', sans-serif; font-kerning: none">≈</tspan><tspan x="109.5670" y="-0.4094" style="font-size: 12px; font-family: 'DejaVu Sans', sans-serif; font-kerning: none">1.364</tspan><tspan x="91.2441" y="-6.6125" style="font-style: oblique; font-size: 8.4px; font-family: 'DejaVu Sans', sans-serif; font-kerning: none">j</tspan><tspan x="90.1441" y="2.8719" style="font-size: 8.4px; font-family: 'DejaVu Sans', sans-serif; font-kerning: none">0</tspan></text>
    </g>
   </g>
   <g id="legend_2">
    <g id="patch_13">
     <path d="M 287.008 114.006 L 395.608 114.006 Q 397.608 114.006 397.608 112.006 L 397.608 62.656 Q 397.608 60.656 395.608 60.656 L 287.008 60.656 Q 285.008 60.656 285.008 62.656 L 285.008 112.006 Q 285.008 114.006 287.008 114.006 z" style="fill: #ffffff; stroke: #cccccc; stroke-linejoin: miter"/>
    </g>
    <g id="line2d_119">
     <path d="M 289.008 71.986 L 299.008 71.986 L 309.008 71.986" style="fill: none; stroke: #1f77b4; stroke-width: 1.5; stroke-linecap: square"/>
    </g>
    <g id="text_29">
          <g transform="translate(316.6080 75.4860)">
      <text><tspan x="0.0000" y="-0.60625" style="font-style: oblique; font-size: 10px; font-family: 'DejaVu Sans', sans-serif; font-kerning: none">I</tspan><tspan x="4.4518" y="-5.6844" style="font-style: oblique; font-size: 7px; font-family: 'DejaVu Sans', sans-serif; font-kerning: none">j</tspan><tspan x="3.1492" y="2.4281" style="font-size: 7px; font-family: 'DejaVu Sans', sans-serif; font-kerning: none">1</tspan></text>
     </g>
    </g>
    <g id="line2d_120">
     <path d="M 289.008 87.986 L 299.008 87.986 L 309.008 87.986" style="fill: none; stroke: #ff7f0e; stroke-width: 1.5; stroke-linecap: square"/>
    </g>
    <g id="text_30">
          <g transform="translate(316.6080 91.4860)">
      <text><tspan x="0.0000" y="-0.51875" style="font-style: oblique; font-size: 10px; font-family: 'DejaVu Sans', sans-serif; font-kerning: none">I</tspan><tspan x="4.4518" y="-5.6844" style="font-style: oblique; font-size: 7px; font-family: 'DejaVu Sans', sans-serif; font-kerning: none">j</tspan><tspan x="3.1492" y="2.5156" style="font-size: 7px; font-family: 'DejaVu Sans', sans-serif; font-kerning: none">2</tspan></text>
     </g>
    </g>
    <g id="line2d_121">
     <path d="M 289.008 103.886 L 299.008 103.886 L 309.008 103.886" style="fill: none; stroke: #2ca02c; stroke-width: 1.5; stroke-linecap: square"/>
    </g>
    <g id="text_31">
          <g transform="translate(316.6080 107.3860)">
      <text><tspan x="0.0000" y="-0.60625" style="font-style: oblique; font-size: 10px; font-family: 'DejaVu Sans', sans-serif; font-kerning: none">W</tspan><tspan x="11.3902" y="-5.6844" style="font-style: oblique; font-size: 7px; font-family: 'DejaVu Sans', sans-serif; font-kerning: none">j</tspan><tspan x="10.0877" y="2.4281" style="font-size: 7px; font-family: 'DejaVu Sans', sans-serif; font-kerning: none">1</tspan></text>
     </g>
    </g>
    <g id="line2d_122">
     <path d="M 351.348 71.986 L 361.348 71.986 L 371.348 71.986" style="fill: none; stroke: #d62728; stroke-width: 1.5; stroke-linecap: square"/>
    </g>
    <g id="text_32">
          <g transform="translate(378.9480 75.4860)">
      <text><tspan x="0.0000" y="-0.51875" style="font-style: oblique; font-size: 10px; font-family: 'DejaVu Sans', sans-serif; font-kerning: none">W</tspan><tspan x="11.3902" y="-5.6844" style="font-style: oblique; font-size: 7px; font-family: 'DejaVu Sans', sans-serif; font-kerning: none">j</tspan><tspan x="10.0877" y="2.5156" style="font-size: 7px; font-family: 'DejaVu Sans', sans-serif; font-kerning: none">2</tspan></text>
     </g>
    </g>
    <g id="line2d_123">
     <path d="M 351.348 87.886 L 361.348 87.886 L 371.348 87.886" style="fill: none; stroke: #9467bd; stroke-width: 1.5; stroke-linecap: square"/>
    </g>
    <g id="text_33">
          <g transform="translate(378.9480 91.3860)">
      <text><tspan x="0.0000" y="-0.60625" style="font-style: oblique; font-size: 10px; font-family: 'DejaVu Sans', sans-serif; font-kerning: none">S</tspan><tspan x="7.8677" y="-5.6844" style="font-style: oblique; font-size: 7px; font-family: 'DejaVu Sans', sans-serif; font-kerning: none">j</tspan><tspan x="6.5477" y="2.4281" style="font-size: 7px; font-family: 'DejaVu Sans', sans-serif; font-kerning: none">1</tspan></text>
     </g>
    </g>
    <g id="line2d_124">
     <path d="M 351.348 103.886 L 361.348 103.886 L 371.348 103.886" style="fill: none; stroke: #8c564b; stroke-width: 1.5; stroke-linecap: square"/>
    </g>
    <g id="text_34">
          <g transform="translate(378.9480 107.3860)">
      <text><tspan x="0.0000" y="-0.51875" style="font-style: oblique; font-size: 10px; font-family: 'DejaVu Sans', sans-serif; font-kerning: none">S</tspan><tspan x="7.8677" y="-5.6844" style="font-style: oblique; font-size: 7px; font-family: 'DejaVu Sans', sans-serif; font-kerning: none">j</tspan><tspan x="6.5477" y="2.5156" style="font-size: 7px; font-family: 'DejaVu Sans', sans-serif; font-kerning: none">2</tspan></text>
     </g>
    </g>
   </g>
  </g>
 </g>
 <g transform="scale(0.72)">
<g id="captions" style="font-family: 'Liberation Serif', 'DejaVu Serif', serif; fill: #000000">
<text y="283.8"><tspan x="169.0" style="font-size: 22px" textLength="5.86" lengthAdjust="spacingAndGlyphs">(</tspan><tspan x="175.6" y="283.6" style="font-size: 19.4px" textLength="9.30" lengthAdjust="spacingAndGlyphs">a</tspan><tspan x="186.3" y="283.8" style="font-size: 22px" textLength="5.86" lengthAdjust="spacingAndGlyphs">)</tspan></text>
<text y="283.8"><tspan x="526.4" style="font-size: 22px" textLength="5.86" lengthAdjust="spacingAndGlyphs">(</tspan><tspan x="534.2" style="font-size: 20.5px" textLength="9.43" lengthAdjust="spacingAndGlyphs">b</tspan><tspan x="544.5" style="font-size: 22px" textLength="5.86" lengthAdjust="spacingAndGlyphs">)</tspan></text>
</g>
</g>
</svg>

</body></html>
